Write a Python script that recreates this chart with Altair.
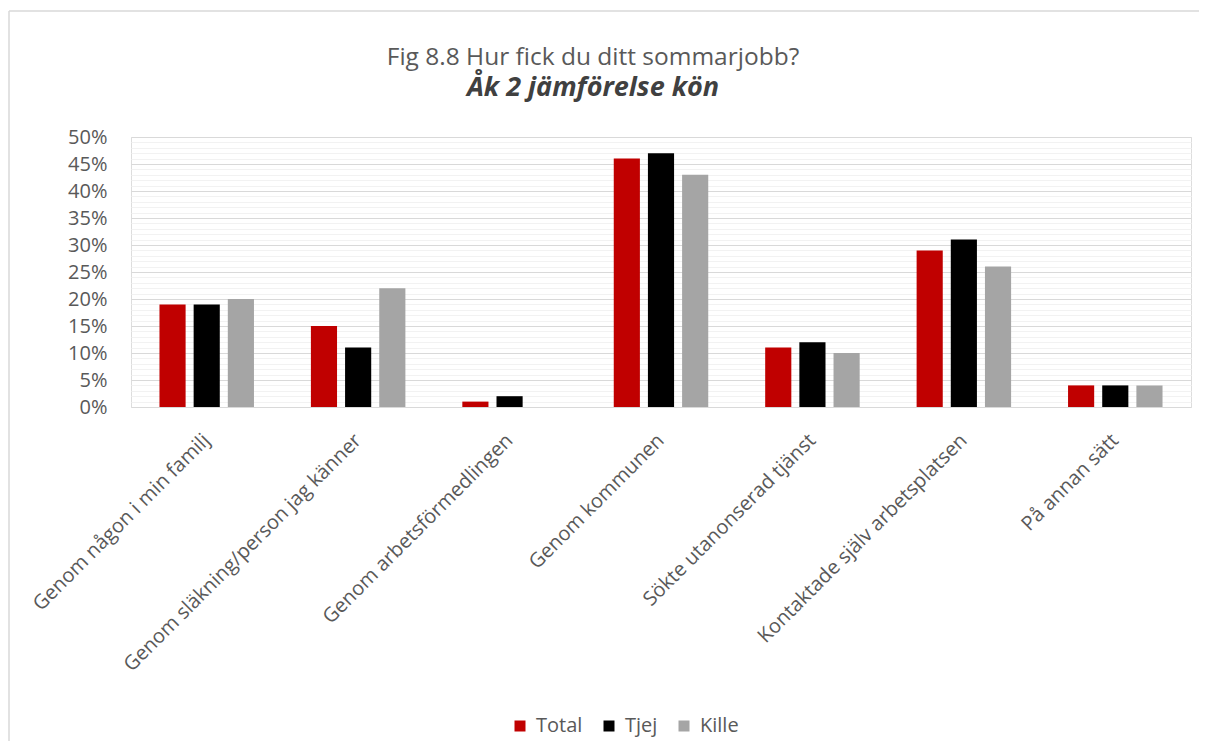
import altair as alt
import pandas as pd

categories = [
    "Genom någon i min familj",
    "Genom släkning/person jag känner",
    "Genom arbetsförmedlingen",
    "Genom kommunen",
    "Sökte utanonserad tjänst",
    "Kontaktade själv arbetsplatsen",
    "På annan sätt",
]
series = ["Total", "Tjej", "Kille"]
total = [19, 15, 1, 46, 11, 29, 4]
tjej = [19, 11, 2, 47, 12, 31, 4]
kille = [20, 22, 0, 43, 10, 26, 4]
colors = ["#C00000", "#000000", "#A5A5A5"]
y_ticks = [i / 100 for i in range(0, 51)]

rows = []
for name, vals in zip(series, [total, tjej, kille]):
    for c, v in zip(categories, vals):
        rows.append({"kategori": c, "serie": name, "pct": v})
df = pd.DataFrame(rows)
frame_df = pd.DataFrame({"k": [0]})

FONT = "Open Sans"
TXT = "#595959"

bars = alt.Chart(df).transform_calculate(
    andel="datum.pct / 100"
).mark_bar().encode(
    x=alt.X(
        "kategori:N",
        sort=categories,
        scale=alt.Scale(paddingInner=0.323, paddingOuter=0.1615),
        axis=alt.Axis(
            title=None, labelAngle=-45, labelAlign="right", labelBaseline="middle",
            ticks=False, tickSize=0, domain=False, grid=False, labelPadding=30,
            labelFontSize=20, labelColor=TXT, labelFont=FONT, labelLimit=400,
        ),
    ),
    xOffset=alt.XOffset(
        "serie:N", sort=series,
        scale=alt.Scale(paddingInner=0.235, paddingOuter=0.1175),
    ),
    y=alt.Y(
        "andel:Q",
        scale=alt.Scale(domain=[0, 0.5], nice=False),
        axis=alt.Axis(
            title=None, values=y_ticks, format=".0%",
            labelExpr="round(datum.value*100) % 5 === 0 ? datum.label : ''",
            labelOverlap=False, domain=False, ticks=False, tickSize=0,
            labelPadding=24, labelFontSize=20, labelColor=TXT, labelFont=FONT,
            gridColor={"condition": {"test": "round(datum.value*100) % 5 === 0", "value": "#D9D9D9"}, "value": "#F2F2F2"},
            gridWidth=1,
        ),
    ),
    color=alt.Color(
        "serie:N", sort=series,
        scale=alt.Scale(domain=series, range=colors),
        legend=alt.Legend(
            title=None, orient="none", direction="horizontal",
            legendX=379, legendY=579, symbolType="square", symbolSize=121,
            symbolStrokeWidth=0, labelFontSize=20, labelColor=TXT, labelFont=FONT,
            columnPadding=16, labelOffset=6,
        ),
    ),
)

frame_left = alt.Chart(frame_df).mark_rule(color="#D9D9D9", strokeWidth=1.5).encode(
    x=alt.value(-122), y=alt.value(-126), y2=alt.value(604)
)
frame_top = alt.Chart(frame_df).mark_rule(color="#D9D9D9", strokeWidth=1.5).encode(
    x=alt.value(-122), x2=alt.value(1068), y=alt.value(-126)
)

chart = alt.layer(frame_left, frame_top, bars).properties(
    width=1060,
    height=270,
    padding={"left": 123, "top": 129, "right": 9, "bottom": 335},
    autosize=alt.AutoSizeParams(type="none"),
    title=alt.TitleParams(
        text="Fig 8.8 Hur fick du ditt sommarjobb?",
        subtitle="Åk 2 jämförelse kön",
        anchor="middle", frame="group", dx=-68, offset=34, dy=126,
        font=FONT, fontSize=24.5, fontWeight="normal", color=TXT,
        subtitleFont=FONT, subtitleFontSize=27, subtitleFontWeight="bold",
        subtitleFontStyle="italic", subtitleColor="#404040", subtitlePadding=5,
    ),
).configure_view(stroke=None).configure(background="white")

chart.save("out.html", embed_options={"renderer": "svg", "actions": False})
